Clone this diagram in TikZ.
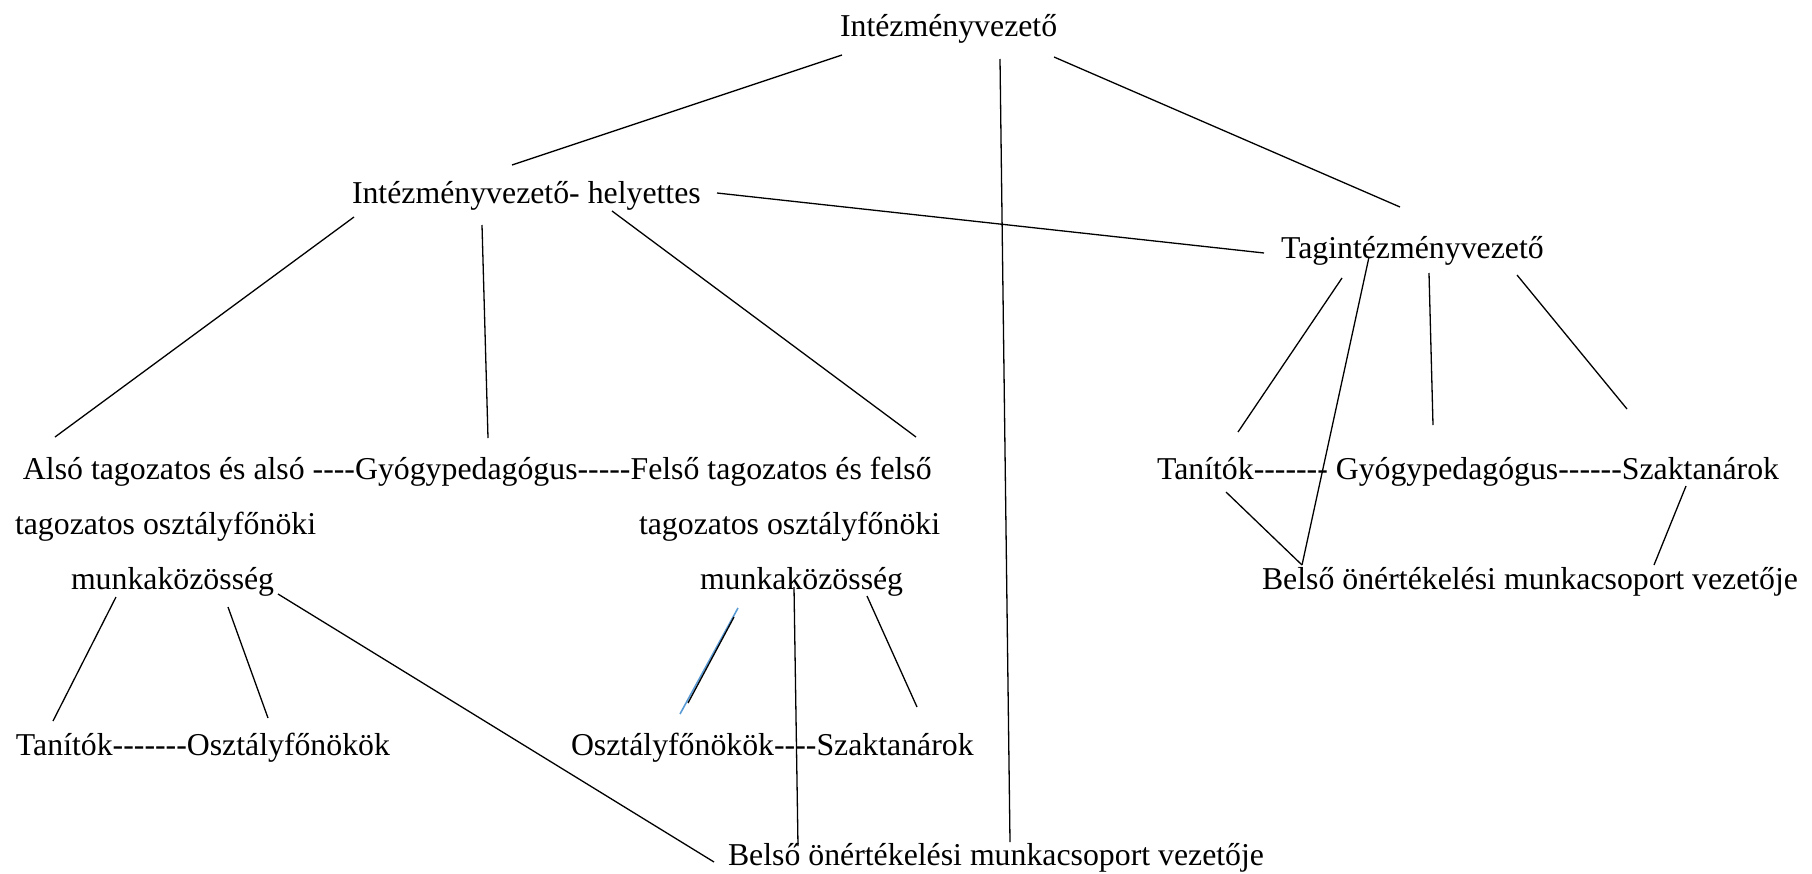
\documentclass[tikz,border=0pt]{standalone}
\usepackage{fontspec}
\setmainfont{Liberation Serif}[Ligatures=TeXOff]
\definecolor{lineblue}{RGB}{91,155,213}
\begin{document}
\begin{tikzpicture}[x=1pt,y=-1pt,
  lbl/.style={anchor=base west,inner sep=0pt,outer sep=0pt,font=\fontsize{31.8}{38}\selectfont},
  conn/.style={line width=1.3pt,black},
  blueconn/.style={line width=1.6pt,lineblue}]
\useasboundingbox (0,0) rectangle (1812,873);
% nodes
\node[lbl] (top) at (840,36) {Intézményvezető};
\node[lbl] (helyettes) at (352,203) {Intézményvezető- helyettes};
\node[lbl] (tag) at (1281,258) {Tagintézményvezető};
\node[lbl] (alsoA) at (23,479) {Alsó tagozatos és alsó ----Gyógypedagógus-----Felső tagozatos és felső};
\node[lbl] (alsoB) at (15,534) {tagozatos osztályfőnöki};
\node[lbl] (alsoC) at (71,589) {munkaközösség};
\node[lbl] (felsoB) at (639,534) {tagozatos osztályfőnöki};
\node[lbl] (felsoC) at (700,589) {munkaközösség};
\node[lbl] (rrow) at (1157,479) {Tanítók------- Gyógypedagógus------Szaktanárok};
\node[lbl] (rbelso) at (1262,589) {Belső önértékelési munkacsoport vezetője};
\node[lbl] (ltan) at (16,755) {Tanítók-------Osztályfőnökök};
\node[lbl] (mosz) at (571,755) {Osztályfőnökök----Szaktanárok};
\node[lbl] (bbelso) at (728,865) {Belső önértékelési munkacsoport vezetője};
% connector end points
\coordinate (topL) at (842,55);
\coordinate (topM) at (1000,59);
\coordinate (topR) at (1054,57);
\coordinate (helT) at (512,165);
\coordinate (bbelsoV) at (1010,842);
\coordinate (tagT) at (1400,207);
\coordinate (helR) at (717,193);
\coordinate (tagL) at (1264,253);
\coordinate (helBL) at (354,217);
\coordinate (alsoT) at (55,437);
\coordinate (helBM) at (482,225);
\coordinate (gyogyT) at (488,438);
\coordinate (helBR) at (612,211);
\coordinate (felsoT) at (916,437);
\coordinate (munkaLR) at (278,594);
\coordinate (bbelsoL) at (714,862);
\coordinate (munkaLa) at (116,597);
\coordinate (ltanT) at (53,721);
\coordinate (munkaLb) at (228,607);
\coordinate (loszT) at (268,718);
\coordinate (munkaRa) at (738,608);
\coordinate (moszT) at (680,714);
\coordinate (munkaRa2) at (734,617);
\coordinate (moszT2) at (688,703);
\coordinate (munkaRm) at (794,587);
\coordinate (bbelsoM) at (798,846);
\coordinate (munkaRb) at (867,596);
\coordinate (mszakT) at (917,707);
\coordinate (tagB1) at (1342,278);
\coordinate (rtanT) at (1238,432);
\coordinate (tagB2) at (1369,257);
\coordinate (rbelsoT) at (1302,565);
\coordinate (tagB3) at (1429,273);
\coordinate (rgyogyT) at (1433,425);
\coordinate (tagB4) at (1517,275);
\coordinate (rszakT) at (1627,409);
\coordinate (rtanB) at (1226,492);
\coordinate (rszakB) at (1686,486);
\coordinate (rbelsoR) at (1654,565);
% connectors
\draw[conn] (topL) -- (helT);
\draw[conn] (topM) -- (bbelsoV);
\draw[conn] (topR) -- (tagT);
\draw[conn] (helR) -- (tagL);
\draw[conn] (helBL) -- (alsoT);
\draw[conn] (helBM) -- (gyogyT);
\draw[conn] (helBR) -- (felsoT);
\draw[conn] (munkaLR) -- (bbelsoL);
\draw[conn] (munkaLa) -- (ltanT);
\draw[conn] (munkaLb) -- (loszT);
\draw[blueconn] (munkaRa) -- (moszT);
\draw[conn] (munkaRa2) -- (moszT2);
\draw[conn] (munkaRm) -- (bbelsoM);
\draw[conn] (munkaRb) -- (mszakT);
\draw[conn] (tagB1) -- (rtanT);
\draw[conn] (tagB2) -- (rbelsoT);
\draw[conn] (tagB3) -- (rgyogyT);
\draw[conn] (tagB4) -- (rszakT);
\draw[conn] (rtanB) -- (rbelsoT);
\draw[conn] (rszakB) -- (rbelsoR);
\end{tikzpicture}
\end{document}
